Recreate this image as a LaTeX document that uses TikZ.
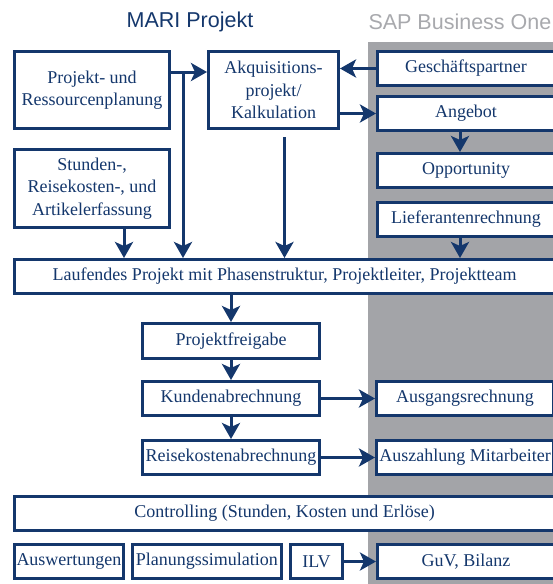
\documentclass[tikz,border=0pt]{standalone}
\usepackage{fontspec}
\setmainfont{Liberation Serif}
\newfontfamily\headfont{Liberation Sans}
\usetikzlibrary{arrows.meta,positioning,calc}
\definecolor{marinavy}{RGB}{20,55,108}
\definecolor{sapgrey}{RGB}{163,164,168}
\definecolor{saptext}{RGB}{168,169,173}
\tikzstyle{box}=[draw=marinavy, line width=3pt, fill=white, text=marinavy, align=center, inner sep=2pt, font=\fontsize{18}{22.5}\selectfont]
\tikzstyle{tall box}=[box, minimum width=155pt, minimum height=77pt]
\tikzstyle{line box}=[box, minimum height=34pt]
\tikzstyle{flow box}=[line box, minimum width=177pt]
\tikzstyle{sap box}=[line box, minimum width=177pt]
\tikzstyle{wide box}=[line box, minimum width=540pt]
\tikzstyle{head}=[font=\headfont\fontsize{21.5}{26}\selectfont]

\begin{document}
\begin{tikzpicture}[x=1pt, y=1pt, ->, >={Stealth[length=16pt,width=18pt,inset=4pt]}, line width=3pt, marinavy]
  \useasboundingbox (0,0) rectangle (553,-584);
  \clip (0,0) rectangle (553,-584);
  \fill[sapgrey] (368,-42) rectangle (553,-584);

  \node[head] (mari) at (190,-22) {MARI Projekt};
  \node[head, text=saptext, anchor=west, inner sep=0pt] (sap) at (367,-22) {SAP Business One};

  \node[tall box, anchor=north west] (proj) at (13,-50) {Projekt- und\\Ressourcenplanung};
  \node[tall box, minimum width=130pt, right=36pt of proj] (akq) {Akquisitions-\\projekt/\\Kalkulation};
  \node[tall box, minimum height=78pt, below=18pt of proj] (stund) {Stunden-,\\Reisekosten-, und\\Artikelerfassung};

  \node[sap box, anchor=north west] (gp) at (376,-50) {Geschäftspartner};
  \node[sap box, below=8pt of gp] (ang) {Angebot};
  \node[sap box, below=20pt of ang] (opp) {Opportunity};
  \node[sap box, below=12pt of opp] (lief) {Lieferantenrechnung};

  \node[wide box, anchor=north west] (lauf) at (13,-258) {Laufendes Projekt mit Phasenstruktur, Projektleiter, Projektteam};

  \node[flow box, minimum height=35pt, anchor=north] (frei) at (231,-322) {Projektfreigabe};
  \node[flow box, below=20pt of frei] (kund) {Kundenabrechnung};
  \node[flow box, below=22pt of kund] (reise) {Reisekostenabrechnung};
  \node[sap box, right=54pt of kund] (ausg) {Ausgangsrechnung};
  \node[sap box, right=54pt of reise] (ausz) {Auszahlung Mitarbeiter};

  \node[wide box, anchor=north west] (contr) at (13,-495) {Controlling (Stunden, Kosten und Erlöse)};
  \node[line box, minimum width=108pt, below right=11pt and 0pt of contr.south west] (ausw) {Auswertungen};
  \node[line box, minimum width=149pt, right=6pt of ausw] (plan) {Planungssimulation};
  \node[line box, minimum width=52pt, right=6pt of plan] (ilv) {ILV};
  \node[sap box, right=32pt of ilv] (guv) {GuV, Bilanz};

  % Planung -> Akquisition, mit Abzweig nach unten
  \draw ([yshift=18pt]proj.east) -- ([yshift=18pt]akq.west);
  \coordinate (branch) at ($(proj.east)+(12,18)$);
  \draw (branch) -- (branch |- lauf.north);
  \draw (gp.west) -- (gp.west -| akq.east);
  \draw (akq.east |- ang.west) -- (ang.west);
  \coordinate (akqdown) at ($(akq.south)+(11,-7)$);
  \draw (akqdown) -- (akqdown |- lauf.north);
  \coordinate (stunddown) at ($(stund.south)+(32,0)$);
  \draw (stunddown) -- (stunddown |- lauf.north);

  % SAP Spalte
  \coordinate (sapline) at ($(ang.south)+(-6,0)$);
  \draw (sapline) -- (sapline |- opp.north);
  \draw (sapline |- lief.south) -- (sapline |- lauf.north);

  % Abrechnung
  \draw (lauf.south -| frei.north) -- (frei.north);
  \draw (frei) -- (kund);
  \draw (kund) -- (reise);
  \draw (kund) -- (ausg);
  \draw (reise) -- (ausz);
  \draw (ilv) -- (guv);
\end{tikzpicture}
\end{document}
